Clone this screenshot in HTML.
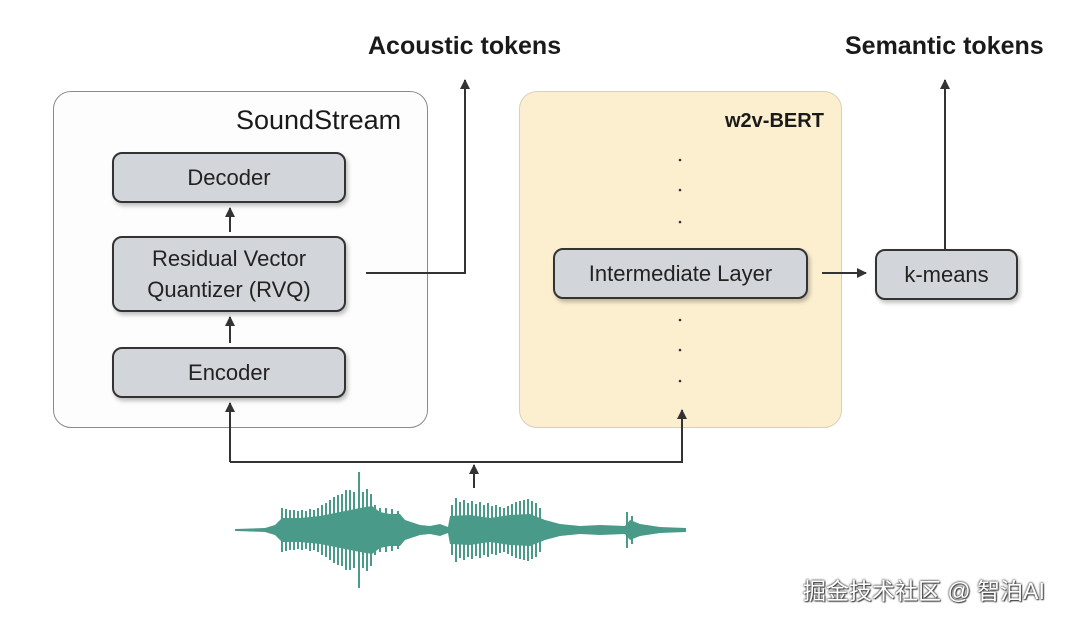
<!DOCTYPE html>
<html><head><meta charset="utf-8"><style>
body{margin:0;width:1080px;height:619px;background:#fff;position:relative;overflow:hidden;font-family:"Liberation Sans","Noto Sans CJK SC",sans-serif;}
.abs{position:absolute;}
.big{border-radius:18px;}
.node{position:absolute;background:#d2d5d9;border:2px solid #333;border-radius:10px;box-shadow:2px 3px 4px rgba(0,0,0,.25);display:flex;align-items:center;justify-content:center;text-align:center;font-size:22px;color:#222;line-height:31px;box-sizing:border-box;}
.t{position:absolute;font-size:24px;color:#1a1a1a;white-space:nowrap;}
</style></head><body>
<div class="abs big" style="left:53px;top:91px;width:375px;height:337px;border:1.5px solid #8a8a8a;background:#fdfdfd;box-sizing:border-box;"></div>
<div class="abs big" style="left:519px;top:91px;width:323px;height:337px;border:1.5px solid #d8d0bc;background:#fcefd0;box-sizing:border-box;"></div>
<div class="t" style="left:236px;top:105px;font-size:27px;">SoundStream</div>
<div class="t" style="left:725px;top:110px;font-size:20px;font-weight:bold;">w2v-BERT</div>
<div class="t" style="left:368px;top:32px;font-weight:bold;font-size:25px;">Acoustic tokens</div>
<div class="t" style="left:845px;top:32px;font-weight:bold;font-size:25px;">Semantic tokens</div>
<div class="node" style="left:112px;top:152px;width:234px;height:51px;">Decoder</div>
<div class="node" style="left:112px;top:236px;width:234px;height:76px;">Residual Vector<br>Quantizer (RVQ)</div>
<div class="node" style="left:112px;top:347px;width:234px;height:51px;">Encoder</div>
<div class="node" style="left:553px;top:248px;width:255px;height:51px;">Intermediate Layer</div>
<div class="node" style="left:875px;top:249px;width:143px;height:51px;">k-means</div>
<svg class="abs" style="left:0;top:0" width="1080" height="619">
<defs><marker id="a" viewBox="0 0 10 10" refX="9" refY="5" markerWidth="5" markerHeight="5" orient="auto"><path d="M0,0L10,5L0,10z" fill="#333"/></marker></defs>
<g stroke="#333" stroke-width="2" fill="none">
<line x1="230" y1="232" x2="230" y2="208" marker-end="url(#a)"/>
<line x1="230" y1="343" x2="230" y2="317" marker-end="url(#a)"/>
<polyline points="366,273 465,273 465,80" marker-end="url(#a)"/>
<line x1="822" y1="273" x2="866" y2="273" marker-end="url(#a)"/>
<line x1="945" y1="250" x2="945" y2="80" marker-end="url(#a)"/>
<polyline points="230,462 682,462 682,410" marker-end="url(#a)"/>
<line x1="230" y1="462" x2="230" y2="403" marker-end="url(#a)"/>
<line x1="474" y1="488" x2="474" y2="465" marker-end="url(#a)"/>
</g>
<g fill="#333"><circle cx="680" cy="160" r="1.3"/><circle cx="680" cy="190" r="1.3"/><circle cx="680" cy="222" r="1.3"/><circle cx="680" cy="320" r="1.3"/><circle cx="680" cy="350" r="1.3"/><circle cx="680" cy="381" r="1.3"/></g>
<g fill="#4a9a8a">
<polygon points="235,529 265,528 275,525 282,518 300,518 320,516 340,512 360,508 372,506 380,512 390,514 400,514 405,520 420,525 430,526 440,524 448,527 450,516 470,515 490,518 510,515 530,514 545,520 560,524 580,526 600,525 625,526 630,520 640,524 660,527 686,528 686,532 660,533 640,536 630,540 625,534 600,535 580,534 560,536 545,540 530,546 510,545 490,542 470,545 450,544 448,533 440,536 430,534 420,535 405,540 400,546 390,546 380,548 372,554 360,552 340,548 320,544 300,542 282,542 275,535 265,532 235,531"/>
</g>
<g stroke="#4a9a8a" stroke-width="2">
<line x1="282" y1="508" x2="282" y2="552"/><line x1="286" y1="509" x2="286" y2="551"/><line x1="290" y1="510" x2="290" y2="550"/><line x1="294" y1="510" x2="294" y2="550"/><line x1="298" y1="511" x2="298" y2="549"/><line x1="302" y1="510" x2="302" y2="550"/><line x1="306" y1="511" x2="306" y2="549"/><line x1="310" y1="509" x2="310" y2="551"/><line x1="314" y1="510" x2="314" y2="550"/><line x1="318" y1="508" x2="318" y2="552"/><line x1="322" y1="505" x2="322" y2="555"/><line x1="326" y1="503" x2="326" y2="557"/><line x1="330" y1="500" x2="330" y2="560"/><line x1="334" y1="497" x2="334" y2="563"/><line x1="338" y1="495" x2="338" y2="565"/><line x1="342" y1="494" x2="342" y2="566"/><line x1="346" y1="490" x2="346" y2="570"/><line x1="350" y1="490" x2="350" y2="570"/><line x1="354" y1="492" x2="354" y2="568"/><line x1="359" y1="472" x2="359" y2="588"/><line x1="363" y1="492" x2="363" y2="568"/><line x1="367" y1="489" x2="367" y2="571"/><line x1="371" y1="494" x2="371" y2="566"/><line x1="375" y1="505" x2="375" y2="555"/><line x1="380" y1="508" x2="380" y2="552"/><line x1="386" y1="508" x2="386" y2="552"/><line x1="392" y1="509" x2="392" y2="551"/><line x1="398" y1="511" x2="398" y2="549"/>
<line x1="452" y1="505" x2="452" y2="555"/><line x1="456" y1="498" x2="456" y2="562"/><line x1="460" y1="502" x2="460" y2="558"/><line x1="464" y1="500" x2="464" y2="560"/><line x1="468" y1="503" x2="468" y2="557"/><line x1="472" y1="501" x2="472" y2="559"/><line x1="476" y1="504" x2="476" y2="556"/><line x1="480" y1="502" x2="480" y2="558"/><line x1="484" y1="505" x2="484" y2="555"/><line x1="488" y1="503" x2="488" y2="557"/><line x1="492" y1="506" x2="492" y2="554"/><line x1="496" y1="505" x2="496" y2="555"/><line x1="500" y1="507" x2="500" y2="553"/><line x1="504" y1="508" x2="504" y2="552"/><line x1="508" y1="506" x2="508" y2="554"/><line x1="512" y1="504" x2="512" y2="556"/><line x1="516" y1="502" x2="516" y2="558"/><line x1="520" y1="501" x2="520" y2="559"/><line x1="524" y1="500" x2="524" y2="560"/><line x1="528" y1="499" x2="528" y2="561"/><line x1="532" y1="501" x2="532" y2="559"/><line x1="536" y1="503" x2="536" y2="557"/><line x1="540" y1="508" x2="540" y2="552"/>
<line x1="627" y1="512" x2="627" y2="548"/><line x1="632" y1="516" x2="632" y2="544"/>
</g>
</svg>
<div class="t" style="left:803px;top:572px;font-size:23px;color:#fff;text-shadow:0 0 2px #444,0 0 2px #444,1px 1px 1px #444;">掘金技术社区 @ 智泊AI</div>
</body></html>
